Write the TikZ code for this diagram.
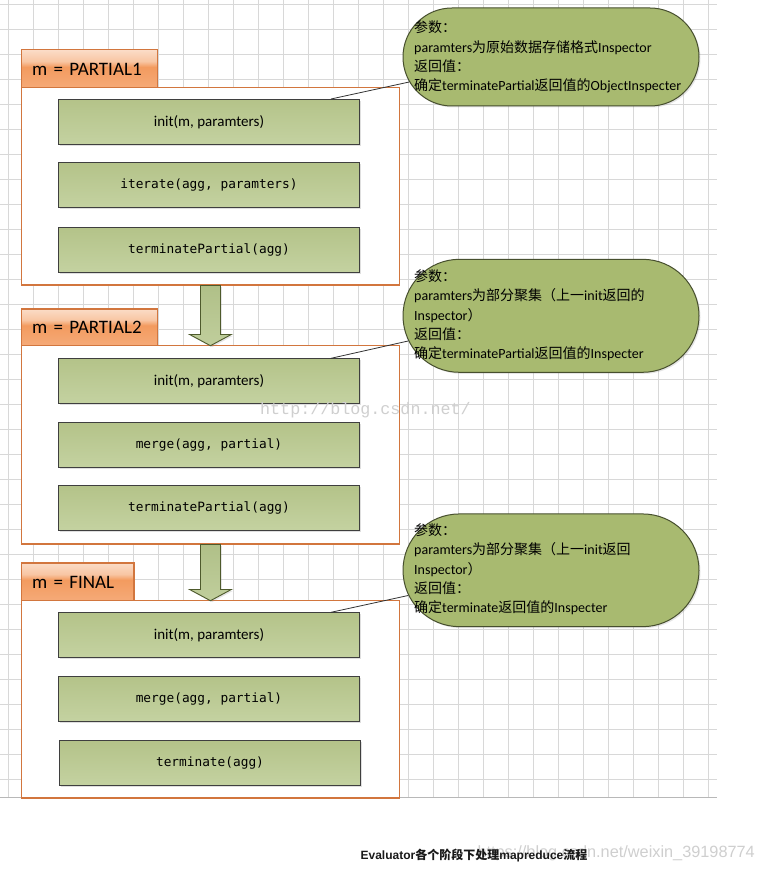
\documentclass[tikz,border=0pt]{standalone}
\usepackage{fontspec}
\setmainfont{Carlito}
\newfontfamily\zhfont{Noto Sans CJK SC}
\newfontfamily\monofont{DejaVu Sans Mono}
\newfontfamily\capfont{Liberation Sans}
\newfontfamily\wmfont{Liberation Mono}
\newcommand{\zh}[1]{{\zhfont #1}}
\usetikzlibrary{shapes.misc,shadows,calc}
\definecolor{gridc}{HTML}{D8D8D8}
\definecolor{framec}{HTML}{D2763E}
\definecolor{tabtop}{HTML}{FBDCC7}
\definecolor{tablight}{HTML}{F8C6A3}
\definecolor{tabdark}{HTML}{F39B5F}
\definecolor{tabbot}{HTML}{F5AA78}
\definecolor{boxborder}{HTML}{3F3F3F}
\definecolor{boxtop}{HTML}{B4C389}
\definecolor{boxbot}{HTML}{C4D2A1}
\definecolor{callfill}{HTML}{A8BA70}
\definecolor{callborder}{HTML}{474F2E}
\definecolor{arrtop}{HTML}{B0C088}
\definecolor{arrbot}{HTML}{C0CE9C}
\definecolor{arrborder}{HTML}{4E5A2C}
\definecolor{wmc}{HTML}{CFCFCF}
\pgfdeclareverticalshading{tabshade}{100bp}{color(0bp)=(tabbot); color(25bp)=(tabbot); color(52.5bp)=(tabdark); color(60bp)=(tablight); color(75bp)=(tabtop); color(100bp)=(tabtop)}
\begin{document}
\begin{tikzpicture}[x=1pt,y=-1pt,
  gridline/.style={draw=gridc, line width=0.9pt},
  frame/.style={draw=framec, line width=1.2pt, fill=white, anchor=north west, inner sep=0pt, minimum width=377.7pt},
  tab/.style={draw=framec, line width=1.2pt, shading=tabshade, anchor=north west, minimum height=38pt,
    inner xsep=10.5pt, inner ysep=0pt, align=left, text height=12.5pt, text depth=0pt,
    font=\fontsize{19}{19}\selectfont},
  ibox/.style={draw=boxborder, line width=1pt, top color=boxtop, bottom color=boxbot, anchor=north west,
    minimum width=300.4pt, minimum height=45pt, inner sep=0pt, font=\monofont\fontsize{12.8}{12.8}\selectfont,
    drop shadow={shadow xshift=1.5pt, shadow yshift=-1.5pt, opacity=0.25}},
  cfont/.style={font=\fontsize{15}{15}\selectfont},
  callout/.style={shape=rounded rectangle, draw=callborder, line width=1pt, fill=callfill, inner sep=0pt,
    minimum width=296pt, drop shadow={shadow xshift=1.5pt, shadow yshift=-1.5pt, opacity=0.2}},
  ctext/.style={anchor=west, align=left, inner sep=0pt, font=\fontsize{14}{19.3}\selectfont},
  conn/.style={draw=black!80, line width=0.8pt},
  barrow/.style={draw=arrborder, line width=0.9pt, top color=arrtop, bottom color=arrbot,
    drop shadow={shadow xshift=1.5pt, shadow yshift=-1.5pt, opacity=0.2}}
]
\useasboundingbox (0,0) rectangle (763,872);
\fill[white] (0,0) rectangle (763,872);
% grid
\foreach \k in {0,...,31} \draw[gridline] (0,{4.3+25*\k}) -- (716.7,{4.3+25*\k});
\foreach \k in {0,...,28} \draw[gridline] ({8.3+25*\k},0) -- ({8.3+25*\k},797.7);
\draw[draw=gridc!85!black, line width=1.3pt] (0,797.7) -- (716.7,797.7);

% frame 1
\node[frame, minimum height=197pt] (f1) at (21,87.3) {};
\node[tab, text width=114.7pt] (tab1) at (21,49.3) {m = PARTIAL1};
\node[ibox, cfont] (i11) at (58.3,99) {init(m, paramters)};
\node[ibox] (i12) at (58.3,162.3) {iterate(agg, paramters)};
\node[ibox] (i13) at (58.3,227.3) {terminatePartial(agg)};

% frame 2
\node[frame, minimum height=198.3pt] (f2) at (21,345) {};
\node[tab, text width=114.7pt, minimum height=36.7pt] (tab2) at (21,308.3) {m = PARTIAL2};
\node[ibox, cfont] (i21) at (58.3,358.3) {init(m, paramters)};
\node[ibox] (i22) at (58.3,422.3) {merge(agg, partial)};
\node[ibox] (i23) at (58.3,485.3) {terminatePartial(agg)};

% frame 3
\node[frame, minimum height=197.3pt] (f3) at (21,600) {};
\node[tab, text width=91.3pt, minimum height=37.7pt] (tab3) at (21,562.3) {m = FINAL};
\node[ibox, cfont] (i31) at (58.3,612.3) {init(m, paramters)};
\node[ibox] (i32) at (58.3,676) {merge(agg, partial)};
\node[ibox] (i33) at (59.3,740) {terminate(agg)};

% block arrows
\path[barrow] let \p1=(f1.south), \p2=(f2.north) in
  (\x1-10pt,\y1) -- (\x1+10pt,\y1) -- (\x1+10pt,\y2+10.5pt) -- (\x1+20.8pt,\y2+10.5pt) -- (\x1,\y2-0.7pt)
  -- (\x1-20.8pt,\y2+10.5pt) -- (\x1-10pt,\y2+10.5pt) -- cycle;
\path[barrow] let \p1=(f2.south), \p2=(f3.north) in
  (\x1-10pt,\y1) -- (\x1+10pt,\y1) -- (\x1+10pt,\y2+10.5pt) -- (\x1+20.8pt,\y2+10.5pt) -- (\x1,\y2-0.7pt)
  -- (\x1-20.8pt,\y2+10.5pt) -- (\x1-10pt,\y2+10.5pt) -- cycle;

% callouts
\node[callout, minimum height=98pt] (c1) at (551,57) {};
\node[callout, minimum height=113pt] (c2) at (551,315.8) {};
\node[callout, minimum height=112.7pt] (c3) at (551,570.3) {};
\draw[conn] ([xshift=-28.7pt]i11.north east) -- (c1.190);
\draw[conn] ([xshift=-28.7pt]i21.north east) -- (c2.190);
\draw[conn] ([xshift=-28.7pt]i31.north east) -- (c3.190);

\node[ctext] (t1) at (414,57) {\zh{参数：}\\paramters\zh{为原始数据存储格式}Inspector\\\zh{返回值：}\\\zh{确定}terminatePartial\zh{返回值的}ObjectInspecter};
\node[ctext] (t2) at (414,315.5) {\zh{参数：}\\paramters\zh{为部分聚集（上一}init\zh{返回的}\\Inspector\zh{）}\\\zh{返回值：}\\\zh{确定}terminatePartial\zh{返回值的}Inspecter};
\node[ctext] (t3) at (414,569.5) {\zh{参数：}\\paramters\zh{为部分聚集（上一}init\zh{返回}\\Inspector\zh{）}\\\zh{返回值：}\\\zh{确定}terminate\zh{返回值的}Inspecter};

% watermarks
\node[anchor=west, inner sep=0pt, text=wmc, font=\wmfont\fontsize{16.7}{16.7}\selectfont] (wm1) at (260,410.5) {http://blog.csdn.net/};
\node[anchor=east, inner sep=0pt, text=wmc, font=\capfont\fontsize{16.3}{16.3}\selectfont] (wm2) at (755,853) {https://blog.csdn.net/weixin\_39198774};

% caption
\node[inner sep=0pt, text=black!90, font=\capfont\bfseries\fontsize{12}{12}\selectfont] (cap) at (474,856) {Evaluator{\zhfont\bfseries 各个阶段下处理}mapreduce{\zhfont\bfseries 流程}};
\end{tikzpicture}
\end{document}
